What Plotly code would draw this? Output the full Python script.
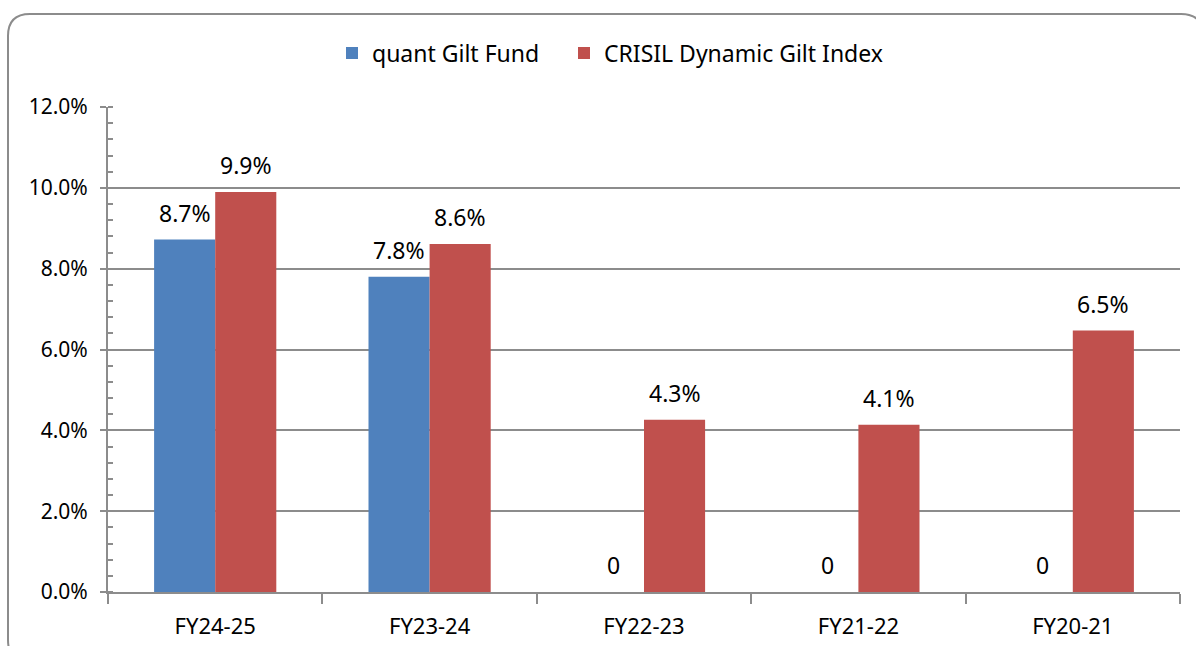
import plotly.graph_objects as go

categories = ["FY24-25", "FY23-24", "FY22-23", "FY21-22", "FY20-21"]
quant_gilt = [8.72, 7.80, 0.0, 0.0, 0.0]
crisil_gilt = [9.90, 8.61, 4.26, 4.14, 6.47]
series_names = ["quant Gilt Fund", "CRISIL Dynamic Gilt Index"]
y_ticks = [0, 2, 4, 6, 8, 10, 12]


def labels(vals):
    return [f"{v:.1f}%" if v else "0" for v in vals]


FONT = "Noto Sans, Open Sans, sans-serif"
W, H = 1196, 646
L, R, T, B = 108, 16, 107, 54
BARGAP = 0.43

fig = go.Figure()
fig.add_trace(go.Bar(x=categories, y=quant_gilt, name=series_names[0], legend="legend",
                     marker=dict(color="#4F81BD", line=dict(width=0))))
fig.add_trace(go.Bar(x=categories, y=crisil_gilt, name=series_names[1], legend="legend2",
                     marker=dict(color="#C0504D", line=dict(width=0))))

# value labels placed over each bar (half a bar width left/right of the category)
pw, ph = W - L - R, H - T - B
half_bar = pw / len(categories) * (1 - BARGAP) / 4
annotations = []
for vals, sign in ((quant_gilt, -1), (crisil_gilt, 1)):
    for c, v, t in zip(categories, vals, labels(vals)):
        annotations.append(dict(x=c, y=v, text=t, showarrow=False, xshift=sign * half_bar,
                                yanchor="middle", yshift=27,
                                font=dict(size=23, color="#000")))

# rounded chart border in paper coordinates
def px(x): return (x - L) / pw
def py(y): return (H - B - y) / ph
x0, x1, y0, y1, r = 8, 1203, 14, 662, 22
path = (f"M {px(x0+r)},{py(y0)} L {px(x1-r)},{py(y0)} Q {px(x1)},{py(y0)} {px(x1)},{py(y0+r)} "
        f"L {px(x1)},{py(y1-r)} Q {px(x1)},{py(y1)} {px(x1-r)},{py(y1)} "
        f"L {px(x0+r)},{py(y1)} Q {px(x0)},{py(y1)} {px(x0)},{py(y1-r)} "
        f"L {px(x0)},{py(y0+r)} Q {px(x0)},{py(y0)} {px(x0+r)},{py(y0)} Z")

legend_style = dict(orientation="h", xanchor="left", y=py(53), yanchor="middle",
                    font=dict(size=23), itemwidth=30, bgcolor="rgba(0,0,0,0)")

fig.update_layout(
    width=W, height=H,
    margin=dict(l=L, r=R, t=T, b=B),
    paper_bgcolor="white", plot_bgcolor="white",
    font=dict(family=FONT, size=20, color="#000"),
    barmode="group", bargap=BARGAP, bargroupgap=0,
    showlegend=True,
    legend=dict(x=px(332), **legend_style),
    legend2=dict(x=px(564), **legend_style),
    annotations=annotations,
    shapes=[dict(type="path", path=path, xref="paper", yref="paper",
                 line=dict(color="#8C8C8C", width=2), layer="above")],
)
fig.update_xaxes(showline=True, linecolor="#8C8C8C", linewidth=2,
                 ticks="outside", tickson="boundaries", ticklen=10, tickwidth=2,
                 tickcolor="#8C8C8C", tickfont=dict(size=22), ticklabelstandoff=14,
                 showgrid=False, automargin=False)
fig.update_yaxes(range=[0, 12], tickvals=y_ticks, ticktext=[f"{v:.1f}%" for v in y_ticks],
                 showline=True, linecolor="#8C8C8C", linewidth=2,
                 ticks="outside", ticklen=6, tickwidth=2, tickcolor="#8C8C8C",
                 showgrid=True, gridcolor="#8C8C8C", gridwidth=1.5,
                 tickfont=dict(size=21), ticklabelstandoff=8, automargin=False,
                 minor=dict(dtick=0.4, tick0=0, ticks="inside", ticklen=5,
                            tickwidth=2, tickcolor="#8C8C8C", showgrid=False),
                 zeroline=False)

fig.write_html("out.html", config={"displayModeBar": False},
               post_script="document.body.style.margin='0';")
